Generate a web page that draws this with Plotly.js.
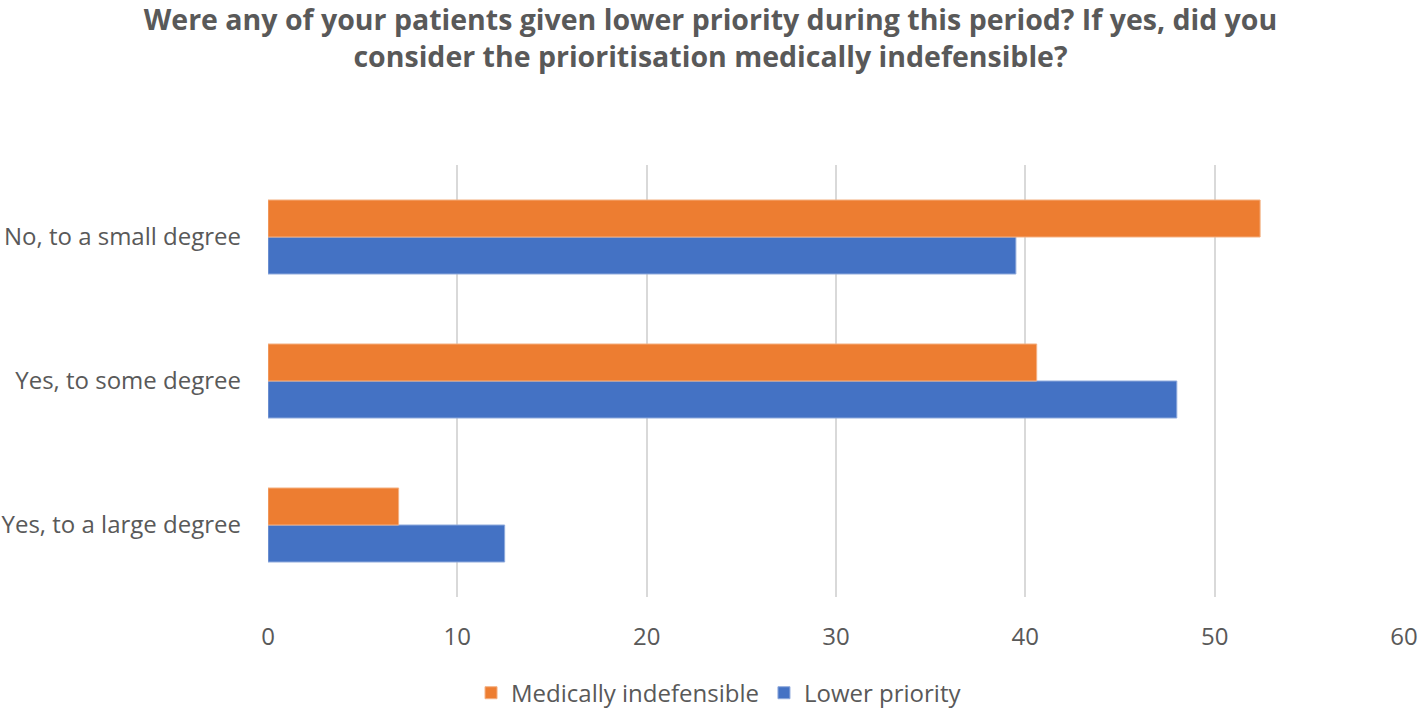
<!DOCTYPE html>
<html>
<head>
<meta charset="utf-8">
<script src="https://cdn.plot.ly/plotly-3.0.1.min.js"></script>
<style>
  html, body { margin: 0; padding: 0; background: #fff; }
  #chart { width: 1421px; height: 708px; }
</style>
</head>
<body>
<div id="chart"></div>
<script>
// categories, bottom to top as plotly draws them
var categories = ["Yes, to a large degree", "Yes, to some degree", "No, to a small degree"];
var lowerPriority = [12.5, 48.0, 39.5];
var medicallyIndefensible = [6.9, 40.6, 52.4];
var xTicks = [0, 10, 20, 30, 40, 50, 60];

var fontFamily = "'Open Sans', Lato, sans-serif";
var grey = "#595959";

var traces = [
    {
        type: "bar",
        orientation: "h",
        name: "Lower priority",
        y: categories,
        x: lowerPriority,
        marker: {color: "#4472c4", line: {color: "#8faadc", width: 1}},
        hoverinfo: "x+name"
    },
    {
        type: "bar",
        orientation: "h",
        name: "Medically indefensible",
        y: categories,
        x: medicallyIndefensible,
        marker: {color: "#ed7d31", line: {color: "#f4b183", width: 1}},
        hoverinfo: "x+name"
    }
];

var layout = {
    width: 1421,
    height: 708,
    paper_bgcolor: "#fff",
    plot_bgcolor: "#fff",
    margin: {l: 268, r: 17, t: 165, b: 111, pad: 0},
    font: {family: fontFamily, color: grey, size: 24},
    title: {
        text: "Were any of your patients given lower priority during this period? If yes, did you<br>consider the prioritisation medically indefensible?",
        font: {family: fontFamily, size: 28.5, color: grey, weight: "bold"},
        x: 0.5,
        xanchor: "center",
        y: 0.958,
        yanchor: "middle",
        yref: "container"
    },
    barmode: "group",
    bargap: 0.486,
    bargroupgap: 0,
    xaxis: {
        range: [0, 60],
        tickvals: xTicks,
        ticktext: xTicks.map(String),
        showgrid: true,
        gridcolor: "#d9d9d9",
        gridwidth: 2,
        zeroline: false,
        showline: false,
        ticks: "",
        ticklabelstandoff: 23,
        tickfont: {size: 24, color: grey},
        automargin: false,
        fixedrange: true
    },
    yaxis: {
        type: "category",
        categoryorder: "array",
        categoryarray: categories,
        showgrid: false,
        zeroline: false,
        showline: false,
        ticks: "",
        ticklabelstandoff: 26,
        tickfont: {size: 24, color: grey},
        automargin: false,
        fixedrange: true
    },
    showlegend: true,
    legend: {
        orientation: "h",
        traceorder: "reversed",
        x: 0.506,
        xref: "container",
        xanchor: "center",
        y: 0.021,
        yref: "container",
        yanchor: "middle",
        font: {size: 24, color: grey},
        itemwidth: 30
    }
};

Plotly.newPlot("chart", traces, layout, {displayModeBar: false, staticPlot: true});
</script>
</body>
</html>
